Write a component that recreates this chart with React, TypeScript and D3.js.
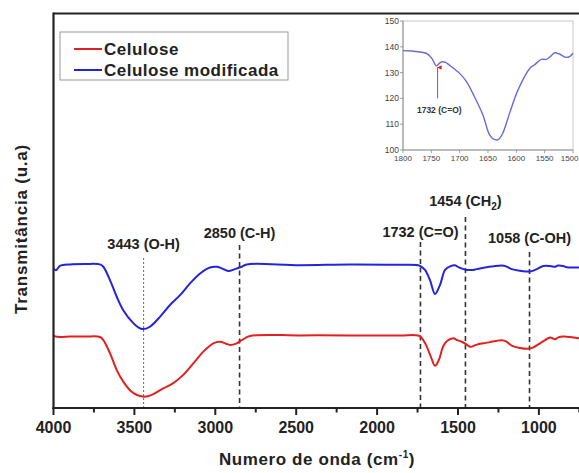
import React from "react";
import * as d3 from "d3";

// FTIR spectra (wavenumber cm^-1, transmittance a.u.)
const celuloseWave = [4000, 3960, 3898, 3805, 3713, 3692, 3651, 3609, 3569, 3517, 3484, 3449, 3416, 3383, 3321, 3260, 3198, 3136, 3074, 3012, 2971, 2934, 2909, 2868, 2837, 2786, 2477, 2168, 1858, 1747, 1729, 1698, 1667, 1642, 1618, 1593, 1568, 1529, 1506, 1477, 1450, 1425, 1388, 1344, 1302, 1265, 1230, 1203, 1168, 1117, 1066, 1037, 993, 962, 931, 900, 880, 849, 808, 752, 684];
const celuloseT = [18.25, 18.0, 18.1, 18.1, 18.0, 17.2, 13.9, 9.6, 6.7, 4.1, 3.3, 2.9, 3.0, 3.5, 5.0, 6.3, 8.4, 11.3, 14.3, 16.4, 16.8, 16.3, 16.0, 16.4, 17.2, 18.25, 18.4, 18.4, 18.4, 18.4, 18.0, 16.0, 12.9, 10.7, 12.2, 15.5, 17.0, 17.7, 17.2, 16.8, 16.2, 15.5, 16.0, 16.4, 16.7, 17.0, 17.2, 16.9, 15.8, 15.2, 15.0, 15.3, 16.4, 17.2, 17.9, 17.4, 17.9, 18.1, 18.0, 17.7, 17.7];

const modWave = [4000, 3985, 3960, 3898, 3805, 3713, 3692, 3651, 3609, 3569, 3507, 3478, 3449, 3404, 3342, 3280, 3218, 3156, 3094, 3033, 2991, 2960, 2920, 2878, 2837, 2806, 2477, 2168, 1858, 1747, 1735, 1704, 1673, 1642, 1611, 1580, 1549, 1519, 1498, 1467, 1446, 1407, 1384, 1323, 1284, 1230, 1203, 1168, 1117, 1055, 1024, 973, 931, 900, 882, 851, 828, 795, 752, 684];
const modT = [35.4, 34.9, 36.0, 36.4, 36.5, 36.4, 35.8, 32.4, 28.2, 24.8, 21.5, 20.5, 20.0, 20.6, 23.1, 26.1, 28.6, 31.6, 34.1, 35.6, 35.8, 35.4, 34.7, 35.2, 35.8, 36.4, 36.2, 36.4, 36.3, 36.2, 36.0, 35.0, 32.4, 28.9, 31.2, 35.0, 35.9, 36.2, 35.7, 35.2, 35.0, 35.0, 35.2, 35.7, 35.9, 36.1, 35.9, 35.2, 34.8, 34.6, 35.0, 36.0, 36.0, 35.8, 36.1, 36.0, 35.7, 35.6, 35.6, 35.7];

// Inset: carbonyl region of the modified cellulose
const insetWave = [1800, 1785, 1770, 1759, 1750, 1741, 1736, 1731, 1725, 1718, 1700, 1688, 1674, 1659, 1647, 1638, 1632, 1624, 1612, 1597, 1576, 1568, 1556, 1547, 1540, 1532, 1524, 1512, 1506, 1500];
const insetT = [138.5, 138.4, 138.0, 137.5, 135.8, 132.6, 133.6, 134.2, 134.0, 132.9, 129.7, 126.5, 120.7, 113.6, 105.8, 104.0, 104.0, 106.5, 114.2, 123.3, 131.7, 133.0, 135.1, 135.1, 136.2, 137.7, 137.2, 135.9, 136.2, 137.5];

const xTicks = [4000, 3500, 3000, 2500, 2000, 1500, 1000];
const xMinorTicks = [3750, 3250, 2750, 2250, 1750, 1250, 750];
const insetXTicks = [1800, 1750, 1700, 1650, 1600, 1550, 1500];
const insetYTicks = [100, 110, 120, 130, 140, 150];

const bands = [
  { w: 3443, name: "3443 (O-H)", top: 258, labelY: 249, thin: true },
  { w: 2850, name: "2850 (C-H)", top: 245, labelY: 238, thin: false },
  { w: 1732, name: "1732 (C=O)", top: 242, labelY: 237, thin: false },
  { w: 1454, name: "1454 (CH", top: 217, labelY: 206, thin: false, sub: "2" },
  { w: 1058, name: "1058 (C-OH)", top: 252, labelY: 243, thin: false },
];

const RED = "#e3201f";
const BLUE = "#2424e0";
const FONT = "'Liberation Sans', Arial, Helvetica, sans-serif";

export default function App() {
  const W = 579;
  const H = 473;
  const left = 53.5;
  const top = 13.5;
  const bottom = 408;

  const x = d3.scaleLinear().domain([4000, 1000]).range([left, left + 3000 * 0.1618]);
  const y = d3.scaleLinear().domain([0, 100]).range([bottom, top]);

  const line = d3
    .line<[number, number]>()
    .x((d) => x(d[0]))
    .y((d) => y(d[1]))
    .curve(d3.curveCatmullRom);

  const redPath = line(celuloseWave.map((w, i) => [w, celuloseT[i]]) as [number, number][]) || "";
  const bluePath = line(modWave.map((w, i) => [w, modT[i]]) as [number, number][]) || "";

  // inset scales
  const ix = d3.scaleLinear().domain([1800, 1500]).range([403, 573]);
  const iy = d3.scaleLinear().domain([100, 150]).range([150, 21]);
  const insetLine = d3
    .line<[number, number]>()
    .x((d) => ix(d[0]))
    .y((d) => iy(d[1]))
    .curve(d3.curveCatmullRom);
  const insetPath = insetLine(insetWave.map((w, i) => [w, insetT[i]]) as [number, number][]) || "";

  return (
    <svg
      width={W}
      height={H}
      style={{ position: "absolute", left: 0, top: 0, background: "#fff" }}
      fontFamily={FONT}
    >
      <defs>
        <clipPath id="plotClip">
          <rect x={left} y={top} width={W - left} height={bottom - top} />
        </clipPath>
        <marker id="arrowHead" viewBox="0 0 10 10" refX="5" refY="1" markerWidth="5" markerHeight="6" orient="auto-start-reverse">
          <path d="M0,10 L5,0 L10,10 Z" fill={RED} />
        </marker>
      </defs>

      {/* band markers */}
      {bands.map((b) => (
        <line
          key={b.w}
          x1={x(b.w)}
          x2={x(b.w)}
          y1={b.top}
          y2={bottom}
          stroke={b.thin ? "#555" : "#333"}
          strokeWidth={b.thin ? 0.9 : 1.6}
          strokeDasharray={b.thin ? "2,2" : "5,3.5"}
        />
      ))}
      {bands.map((b) => (
        <text
          key={"t" + b.w}
          x={x(b.w)}
          y={b.labelY}
          textAnchor="middle"
          fontSize={14.5}
          fontWeight="bold"
          fill="#222"
        >
          {b.name}
          {b.sub ? (
            <>
              <tspan dy={4} fontSize={10}>{b.sub}</tspan>
              <tspan dy={-4}>)</tspan>
            </>
          ) : null}
        </text>
      ))}

      {/* spectra */}
      <g clipPath="url(#plotClip)">
        <path d={bluePath} fill="none" stroke={BLUE} strokeWidth={2} />
        <path d={redPath} fill="none" stroke={RED} strokeWidth={2} />
      </g>

      {/* frame */}
      <line x1={left} x2={W} y1={top} y2={top} stroke="#222" strokeWidth={2.2} />
      <line x1={left} x2={left} y1={top - 1} y2={bottom + 1} stroke="#222" strokeWidth={2.2} />
      <line x1={left - 1} x2={W} y1={bottom} y2={bottom} stroke="#222" strokeWidth={2.2} />

      {/* x ticks */}
      {xTicks.map((t) => (
        <g key={t}>
          <line x1={x(t)} x2={x(t)} y1={bottom} y2={bottom + 7} stroke="#222" strokeWidth={2} />
          <text x={x(t)} y={433} textAnchor="middle" fontSize={16} fontWeight="bold" fill="#222">
            {t}
          </text>
        </g>
      ))}
      {xMinorTicks.map((t) => (
        <line key={t} x1={x(t)} x2={x(t)} y1={bottom} y2={bottom + 4.5} stroke="#222" strokeWidth={2} />
      ))}

      {/* axis titles */}
      <text x={317} y={465} textAnchor="middle" fontSize={17} fontWeight="bold" fill="#222" letterSpacing={0.6}>
        Numero de onda (cm
        <tspan dy={-7} fontSize={10}>-1</tspan>
        <tspan dy={7}>)</tspan>
      </text>
      <text
        transform="translate(27,229) rotate(-90)"
        textAnchor="middle"
        fontSize={17}
        fontWeight="bold"
        fill="#222"
        letterSpacing={0.8}
      >
        Transmitância (u.a)
      </text>

      {/* legend */}
      <rect x={60} y={32} width={228} height={48} fill="#fff" stroke="#999" strokeWidth={1} />
      <line x1={74} x2={102} y1={49} y2={49} stroke={RED} strokeWidth={2} />
      <line x1={74} x2={102} y1={70} y2={70} stroke={BLUE} strokeWidth={2} />
      <text x={104} y={55} fontSize={17} fontWeight="bold" fill="#222" letterSpacing={0.5}>Celulose</text>
      <text x={104} y={76} fontSize={17} fontWeight="bold" fill="#222" letterSpacing={0.5}>Celulose modificada</text>

      {/* inset */}
      <rect x={403} y={21} width={170} height={129} fill="#fff" stroke="#bbb" strokeWidth={0.8} />
      <line x1={403} x2={403} y1={21} y2={150} stroke="#888" strokeWidth={0.9} />
      <line x1={403} x2={573} y1={150} y2={150} stroke="#888" strokeWidth={0.9} />
      {insetYTicks.map((t) => (
        <g key={"iy" + t}>
          <line x1={400} x2={403} y1={iy(t)} y2={iy(t)} stroke="#888" strokeWidth={0.8} />
          <text x={399} y={iy(t) + 3} textAnchor="end" fontSize={8.5} fill="#444">
            {t}
          </text>
        </g>
      ))}
      {insetXTicks.map((t, i) => (
        <g key={"ix" + t}>
          <line x1={ix(t)} x2={ix(t)} y1={150} y2={153} stroke="#888" strokeWidth={0.8} />
          <text
            x={i === insetXTicks.length - 1 ? ix(t) + 5.5 : ix(t)}
            y={161}
            textAnchor={i === insetXTicks.length - 1 ? "end" : "middle"}
            fontSize={8}
            fill="#444"
          >
            {t}
          </text>
        </g>
      ))}
      <path d={insetPath} fill="none" stroke="#6a6ad8" strokeWidth={1.4} />
      <line
        x1={ix(1739)}
        x2={ix(1739)}
        y1={iy(120)}
        y2={iy(132)}
        stroke={RED}
        strokeWidth={0.9}
        markerEnd="url(#arrowHead)"
      />
      <text x={ix(1736)} y={iy(114.3)} textAnchor="middle" fontSize={8.5} fontWeight="bold" fill="#333">
        1732 (C=O)
      </text>
    </svg>
  );
}
